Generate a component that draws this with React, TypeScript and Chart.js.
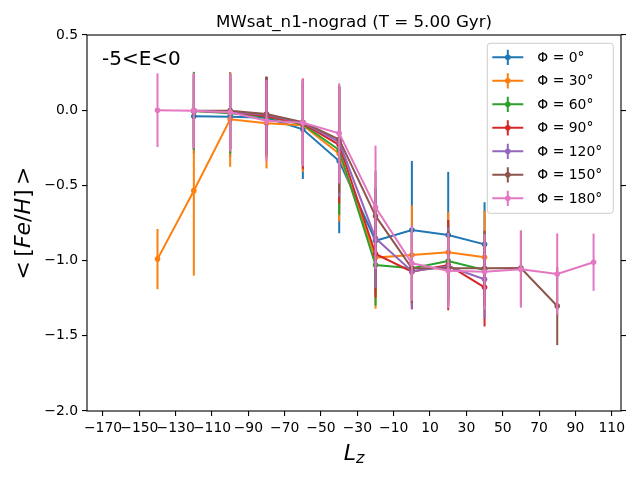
import React, { useEffect, useRef } from "react";
import { Chart, registerables } from "chart.js";

Chart.register(...registerables);

// ---- data ----
const lz = [-140, -120, -100, -80, -60, -40, -20, 0, 20, 40, 60, 80, 100];

const phiLabels = ["Φ = 0°", "Φ = 30°", "Φ = 60°", "Φ = 90°", "Φ = 120°", "Φ = 150°", "Φ = 180°"];

const feh0 = [null, -0.04, -0.043, -0.05, -0.127, -0.338, -0.868, -0.797, -0.83, -0.892, null, null, null];
const err0 = [null, 0.25, 0.27, 0.27, 0.33, 0.48, 0.35, 0.46, 0.42, 0.28, null, null, null];

const feh30 = [-0.99, -0.535, -0.061, -0.087, -0.1, -0.29, -0.98, -0.963, -0.945, -0.978, null, null, null];
const err30 = [0.2, 0.565, 0.315, 0.3, 0.31, 0.45, 0.34, 0.33, 0.27, 0.31, null, null, null];

const feh60 = [null, -0.005, -0.02, -0.043, -0.095, -0.265, -1.029, -1.051, -1.003, -1.062, null, null, null];
const err60 = [null, 0.26, 0.27, 0.26, 0.28, 0.43, 0.27, 0.25, 0.27, 0.25, null, null, null];

const feh90 = [null, -0.005, -0.01, -0.04, -0.09, -0.23, -0.956, -1.074, -1.03, -1.178, null, null, null];
const err90 = [null, 0.24, 0.25, 0.26, 0.3, 0.39, 0.29, 0.25, 0.3, 0.26, null, null, null];

const feh120 = [null, -0.005, -0.01, -0.03, -0.085, -0.21, -0.852, -1.07, -1.04, -1.124, null, null, null];
const err120 = [null, 0.25, 0.25, 0.25, 0.28, 0.365, 0.33, 0.25, 0.26, 0.26, null, null, null];

const feh150 = [null, -0.003, -0.003, -0.025, -0.08, -0.194, -0.703, -1.051, -1.051, -1.051, -1.05, -1.302, null];
const err150 = [null, 0.25, 0.25, 0.25, 0.28, 0.355, 0.3, 0.23, 0.25, 0.25, 0.25, 0.26, null];

const feh180 = [0.0, -0.003, -0.014, -0.07, -0.083, -0.154, -0.646, -1.018, -1.067, -1.074, -1.058, -1.089, -1.011];
const err180 = [0.245, 0.25, 0.26, 0.27, 0.29, 0.333, 0.41, 0.25, 0.25, 0.25, 0.255, 0.27, 0.19];

const seriesValues = [feh0, feh30, feh60, feh90, feh120, feh150, feh180];
const seriesErrors = [err0, err30, err60, err90, err120, err150, err180];

const colors = ["#1f77b4", "#ff7f0e", "#2ca02c", "#d62728", "#9467bd", "#8c564b", "#e377c2"];

const xTicks = [-170, -150, -130, -110, -90, -70, -50, -30, -10, 10, 30, 50, 70, 90, 110];
const yTicks = [0.5, 0.0, -0.5, -1.0, -1.5, -2.0];

const titleText = "MWsat_n1-nograd (T = 5.00 Gyr)";
const annotation = "-5<E<0";

const FONT = "'DejaVu Sans', sans-serif";
const minus = (s: string) => s.replace("-", "\u2212");

const errorBarPlugin = {
  id: "errorBars",
  beforeDatasetDraw(chart: any, args: any) {
    const ds = chart.data.datasets[args.index];
    const errs: (number | null)[] = ds.errors;
    if (!errs) return;
    const { ctx, chartArea, scales } = chart;
    ctx.save();
    ctx.beginPath();
    ctx.rect(chartArea.left, chartArea.top, chartArea.right - chartArea.left, chartArea.bottom - chartArea.top);
    ctx.clip();
    ctx.strokeStyle = ds.borderColor;
    ctx.lineWidth = 2;
    ds.data.forEach((p: any) => {
      const e = p.err;
      if (e == null) return;
      const px = scales.x.getPixelForValue(p.x);
      ctx.beginPath();
      ctx.moveTo(px, scales.y.getPixelForValue(p.y + e));
      ctx.lineTo(px, scales.y.getPixelForValue(p.y - e));
      ctx.stroke();
    });
    ctx.restore();
  },
};

const decorPlugin = {
  id: "decor",
  afterDraw(chart: any) {
    const { ctx, chartArea } = chart;
    const { left, right, top, bottom } = chartArea;
    ctx.save();
    // frame
    ctx.strokeStyle = "#000";
    ctx.lineWidth = 1.1;
    ctx.strokeRect(left, top, right - left, bottom - top);

    // title
    ctx.fillStyle = "#000";
    ctx.font = `16.7px ${FONT}`;
    ctx.textAlign = "center";
    ctx.textBaseline = "alphabetic";
    ctx.fillText(titleText, (left + right) / 2, 27);

    // annotation
    ctx.font = `20px ${FONT}`;
    ctx.textAlign = "left";
    ctx.fillText(annotation, left + 15, 65);

    // x label L_z
    ctx.font = `italic 22px ${FONT}`;
    const wL = ctx.measureText("L").width;
    ctx.font = `italic 16px ${FONT}`;
    const wz = ctx.measureText("z").width;
    const cx = (left + right) / 2 - (wL + wz) / 2;
    ctx.font = `italic 22px ${FONT}`;
    ctx.fillText("L", cx, 459.5);
    ctx.font = `italic 16px ${FONT}`;
    ctx.fillText("z", cx + wL, 462.5);

    // y label <[Fe/H]>
    const parts: [string, boolean][] = [
      ["<", false], ["\u2009", false], ["[", false], ["Fe", true], ["/", false], ["H", true], ["]", false], ["\u2009", false], [">", false],
    ];
    const setF = (it: boolean) => (ctx.font = `${it ? "italic " : ""}22px ${FONT}`);
    let total = 0;
    const widths = parts.map(([t, it]) => {
      setF(it);
      const w = ctx.measureText(t).width;
      total += w;
      return w;
    });
    ctx.translate(30, (top + bottom) / 2);
    ctx.rotate(-Math.PI / 2);
    let xx = -total / 2;
    parts.forEach(([t, it], i) => {
      setF(it);
      ctx.fillText(t, xx, 0);
      xx += widths[i];
    });
    ctx.restore();

    // legend
    ctx.save();
    const lx = 487.3, ly = 43.3, lw = 126, lh = 170, r = 3;
    ctx.beginPath();
    ctx.moveTo(lx + r, ly);
    ctx.lineTo(lx + lw - r, ly);
    ctx.quadraticCurveTo(lx + lw, ly, lx + lw, ly + r);
    ctx.lineTo(lx + lw, ly + lh - r);
    ctx.quadraticCurveTo(lx + lw, ly + lh, lx + lw - r, ly + lh);
    ctx.lineTo(lx + r, ly + lh);
    ctx.quadraticCurveTo(lx, ly + lh, lx, ly + lh - r);
    ctx.lineTo(lx, ly + r);
    ctx.quadraticCurveTo(lx, ly, lx + r, ly);
    ctx.closePath();
    ctx.fillStyle = "rgba(255,255,255,0.8)";
    ctx.fill();
    ctx.strokeStyle = "#cccccc";
    ctx.lineWidth = 1;
    ctx.stroke();
    ctx.font = `13.9px ${FONT}`;
    ctx.textAlign = "left";
    ctx.textBaseline = "middle";
    phiLabels.forEach((lab, i) => {
      const yy = 57.3 + i * 23.5;
      const c = colors[i];
      ctx.strokeStyle = c;
      ctx.lineWidth = 2;
      ctx.beginPath();
      ctx.moveTo(492.3, yy);
      ctx.lineTo(523.3, yy);
      ctx.moveTo(507.8, yy - 7.6);
      ctx.lineTo(507.8, yy + 7.6);
      ctx.stroke();
      ctx.fillStyle = c;
      ctx.beginPath();
      ctx.arc(507.8, yy, 2.8, 0, Math.PI * 2);
      ctx.fill();
      ctx.fillStyle = "#000";
      ctx.fillText(lab, 537.3, yy + 1);
    });
    ctx.restore();
  },
};

export default function App() {
  const canvasRef = useRef<HTMLCanvasElement | null>(null);

  useEffect(() => {
    document.body.style.margin = "0";
    const canvas = canvasRef.current;
    if (!canvas) return;
    Chart.defaults.font.family = FONT;
    Chart.defaults.color = "#000";

    const datasets = seriesValues.map((vals, si) => ({
      label: phiLabels[si],
      data: lz
        .map((x, i) => ({ x, y: vals[i] as number, err: seriesErrors[si][i] }))
        .filter((p) => p.y !== null && p.y !== undefined),
      errors: seriesErrors[si],
      borderColor: colors[si],
      backgroundColor: colors[si],
      borderWidth: 2,
      pointRadius: 2.8,
      pointBorderWidth: 0,
      pointHoverRadius: 2.8,
      tension: 0,
      order: seriesValues.length - si,
      parsing: false as const,
    }));

    const tickGrid = {
      drawOnChartArea: false,
      drawTicks: true,
      tickLength: 5,
      color: "#000",
      lineWidth: 1.1,
    };

    const chart = new Chart(canvas, {
      type: "line",
      data: { datasets: datasets as any },
      plugins: [errorBarPlugin, decorPlugin],
      options: {
        animation: false,
        responsive: false,
        devicePixelRatio: 1,
        layout: { padding: { left: 0, right: 0, top: 35, bottom: 0 } },
        plugins: {
          legend: { display: false },
          tooltip: { enabled: false },
          title: { display: false },
        },
        scales: {
          x: {
            type: "linear",
            min: -178.8,
            max: 115.1,
            grid: tickGrid,
            border: { display: false },
            afterBuildTicks: (scale: any) => {
              scale.ticks = xTicks.map((v) => ({ value: v }));
            },
            afterFit: (scale: any) => {
              scale.height = 69;
            },
            ticks: {
              autoSkip: false,
              maxRotation: 0,
              minRotation: 0,
              padding: 4,
              font: { size: 13.9, family: FONT },
              callback: (v: any) => minus(String(v)),
            },
          },
          y: {
            type: "linear",
            position: "left",
            min: -2,
            max: 0.5,
            grid: tickGrid,
            border: { display: false },
            afterBuildTicks: (scale: any) => {
              scale.ticks = yTicks.map((v) => ({ value: v }));
            },
            afterFit: (scale: any) => {
              scale.width = 87;
            },
            ticks: {
              padding: 4,
              font: { size: 13.9, family: FONT },
              callback: (v: any) => minus(Number(v).toFixed(1)),
            },
          },
          y2: {
            type: "linear",
            position: "right",
            min: -2,
            max: 0.5,
            grid: tickGrid,
            border: { display: false },
            afterBuildTicks: (scale: any) => {
              scale.ticks = yTicks.map((v) => ({ value: v }));
            },
            afterFit: (scale: any) => {
              scale.width = 19;
            },
            ticks: { display: false },
          },
        },
      },
    });
    return () => chart.destroy();
  }, []);

  return (
    <div style={{ width: 640, height: 480 }}>
      <canvas ref={canvasRef} width={640} height={480} style={{ display: "block" }} />
    </div>
  );
}
